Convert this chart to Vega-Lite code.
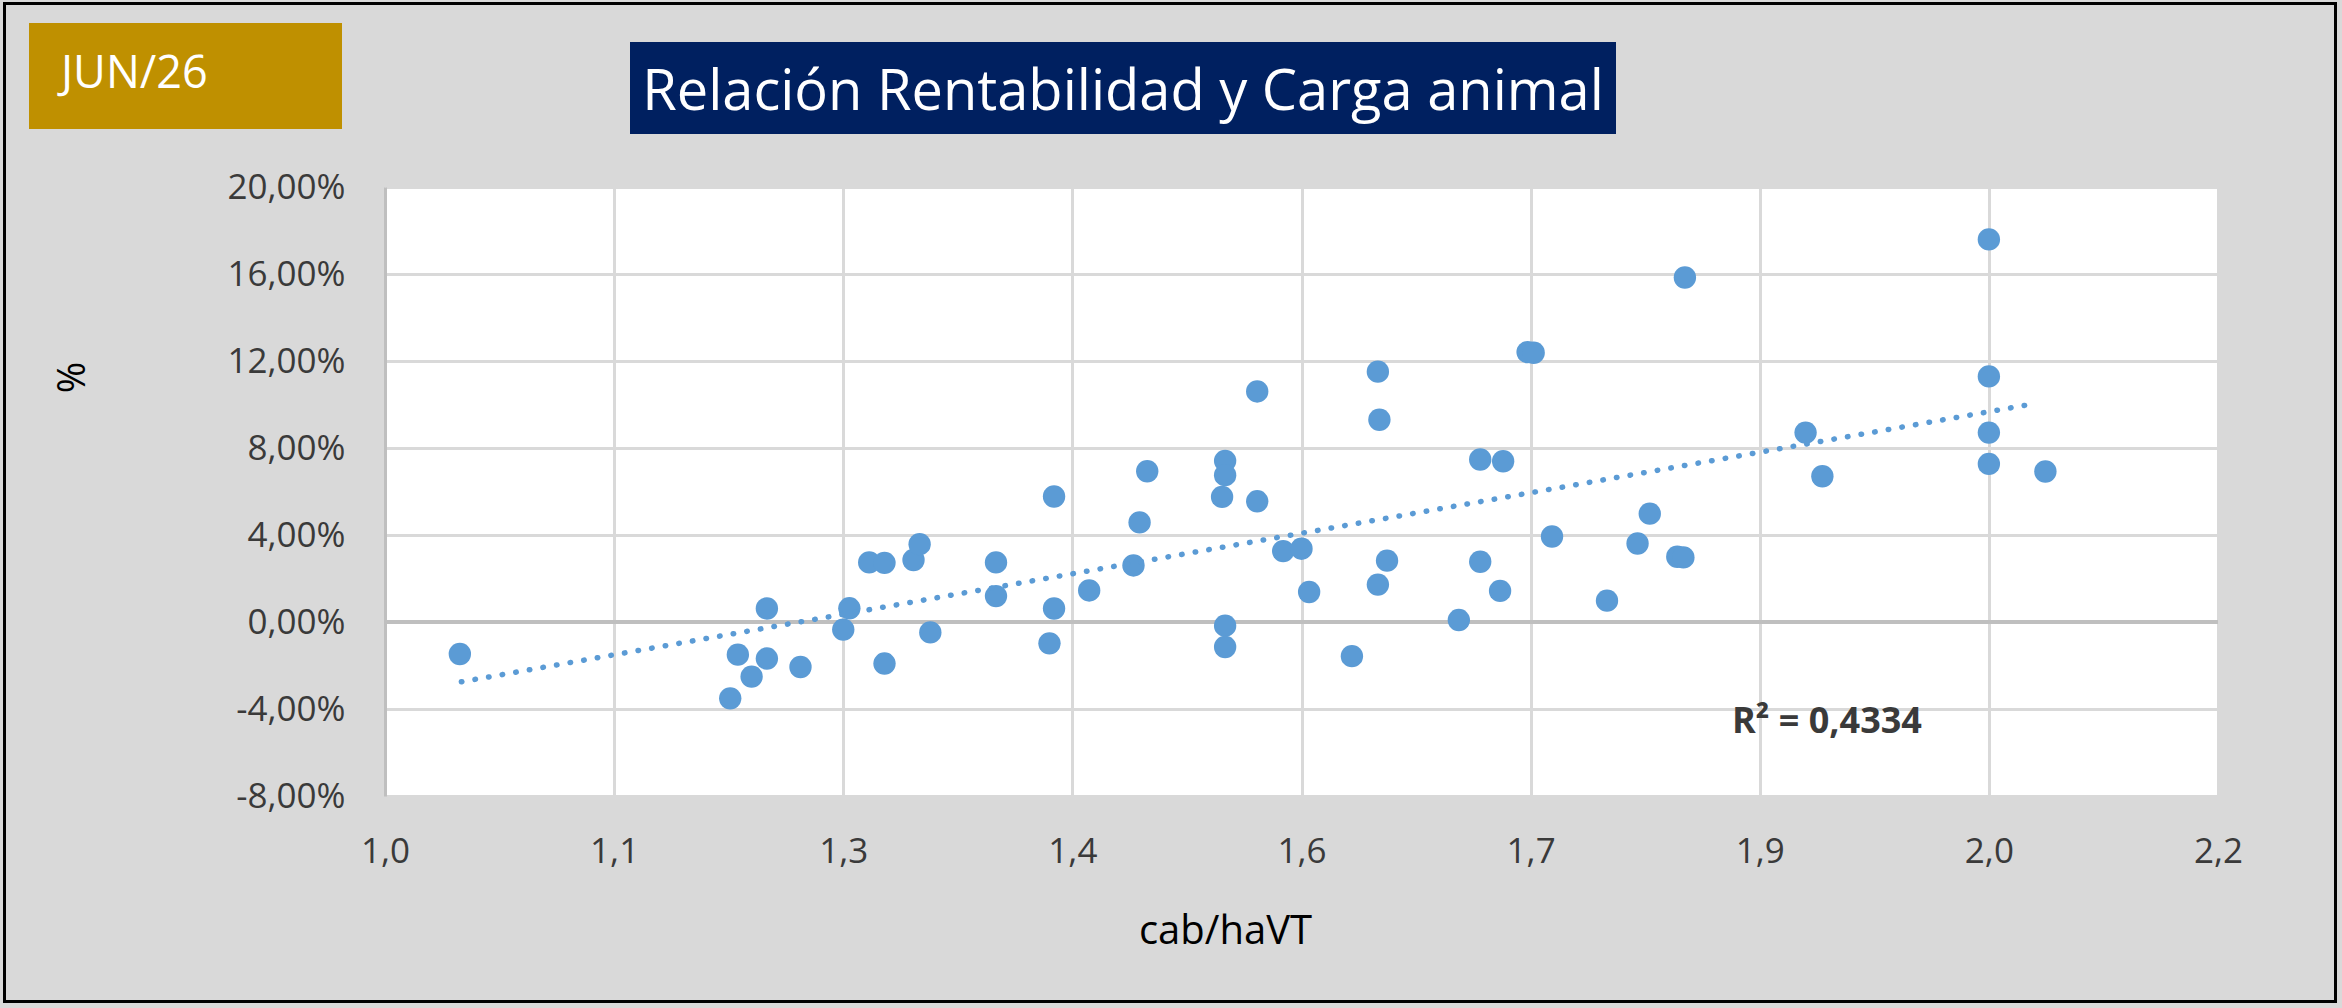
{
  "$schema": "https://vega.github.io/schema/vega-lite/v6.json",
  "background": "#d9d9d9",
  "padding": {"left": 3, "top": 2, "right": 5, "bottom": 5},
  "datasets": {
    "puntos": [
      {"carga": 1.049, "rentabilidad": -1.47},
      {"carga": 1.226, "rentabilidad": -3.51},
      {"carga": 1.231, "rentabilidad": -1.50},
      {"carga": 1.240, "rentabilidad": -2.51},
      {"carga": 1.250, "rentabilidad": -1.68},
      {"carga": 1.250, "rentabilidad": 0.62},
      {"carga": 1.272, "rentabilidad": -2.07},
      {"carga": 1.300, "rentabilidad": -0.35},
      {"carga": 1.304, "rentabilidad": 0.63},
      {"carga": 1.317, "rentabilidad": 2.74},
      {"carga": 1.327, "rentabilidad": 2.72},
      {"carga": 1.327, "rentabilidad": -1.91},
      {"carga": 1.346, "rentabilidad": 2.85},
      {"carga": 1.350, "rentabilidad": 3.58},
      {"carga": 1.357, "rentabilidad": -0.48},
      {"carga": 1.400, "rentabilidad": 2.74},
      {"carga": 1.400, "rentabilidad": 1.19},
      {"carga": 1.435, "rentabilidad": -0.98},
      {"carga": 1.438, "rentabilidad": 5.77},
      {"carga": 1.438, "rentabilidad": 0.62},
      {"carga": 1.461, "rentabilidad": 1.45},
      {"carga": 1.490, "rentabilidad": 2.60},
      {"carga": 1.494, "rentabilidad": 4.58},
      {"carga": 1.499, "rentabilidad": 6.93},
      {"carga": 1.550, "rentabilidad": 7.41},
      {"carga": 1.550, "rentabilidad": 6.75},
      {"carga": 1.548, "rentabilidad": 5.75},
      {"carga": 1.550, "rentabilidad": -0.17},
      {"carga": 1.550, "rentabilidad": -1.15},
      {"carga": 1.571, "rentabilidad": 10.60},
      {"carga": 1.571, "rentabilidad": 5.55},
      {"carga": 1.588, "rentabilidad": 3.26},
      {"carga": 1.600, "rentabilidad": 3.37},
      {"carga": 1.605, "rentabilidad": 1.38},
      {"carga": 1.633, "rentabilidad": -1.57},
      {"carga": 1.650, "rentabilidad": 11.51},
      {"carga": 1.651, "rentabilidad": 9.30},
      {"carga": 1.650, "rentabilidad": 1.72},
      {"carga": 1.656, "rentabilidad": 2.82},
      {"carga": 1.703, "rentabilidad": 0.09},
      {"carga": 1.717, "rentabilidad": 7.47},
      {"carga": 1.717, "rentabilidad": 2.77},
      {"carga": 1.730, "rentabilidad": 1.43},
      {"carga": 1.732, "rentabilidad": 7.39},
      {"carga": 1.748, "rentabilidad": 12.41},
      {"carga": 1.752, "rentabilidad": 12.38},
      {"carga": 1.764, "rentabilidad": 3.93},
      {"carga": 1.800, "rentabilidad": 0.98},
      {"carga": 1.820, "rentabilidad": 3.61},
      {"carga": 1.828, "rentabilidad": 4.98},
      {"carga": 1.846, "rentabilidad": 3.00},
      {"carga": 1.850, "rentabilidad": 2.97},
      {"carga": 1.851, "rentabilidad": 15.84},
      {"carga": 1.930, "rentabilidad": 8.71},
      {"carga": 1.941, "rentabilidad": 6.70},
      {"carga": 2.050, "rentabilidad": 17.59},
      {"carga": 2.050, "rentabilidad": 11.29},
      {"carga": 2.050, "rentabilidad": 8.71},
      {"carga": 2.050, "rentabilidad": 7.27},
      {"carga": 2.087, "rentabilidad": 6.92}
    ],
    "tendencia": [
      {"carga": 1.050, "rentabilidad": -2.75},
      {"carga": 2.080, "rentabilidad": 10.04}
    ]
  },
  "spacing": 0,
  "vconcat": [
    {
      "width": 2334,
      "height": 3,
      "view": {"fill": "#000000"},
      "data": {"values": []},
      "mark": {"type": "text"},
      "encoding": {"text": {"field": "texto"}}
    },
    {
      "spacing": 23,
      "hconcat": [
        {
          "width": 3,
          "height": 995,
          "view": {"fill": "#000000"},
          "data": {"values": []},
          "mark": {"type": "text"},
          "encoding": {"text": {"field": "texto"}}
        },
        {
          "spacing": 0,
          "vconcat": [
            {
              "width": 1,
              "height": 18,
              "view": {"fill": "#d9d9d9"},
              "data": {"values": []},
              "mark": {"type": "text"},
              "encoding": {"text": {"field": "texto"}}
            },
            {
              "spacing": 288,
              "hconcat": [
                {
                  "width": 313,
                  "height": 106,
                  "view": {"fill": "#bf9000"},
                  "data": {"values": [{"texto": "JUN/26"}]},
                  "mark": {"type": "text", "font": "Open Sans", "fontSize": 45, "color": "#ffffff", "align": "left", "baseline": "middle", "dx": -124.5, "dy": -2},
                  "encoding": {"text": {"field": "texto"}}
                },
                {
                  "spacing": 18,
                  "vconcat": [
                    {
                      "width": 1681,
                      "height": 1,
                      "view": {"fill": "#d9d9d9"},
                      "data": {"values": []},
                      "mark": {"type": "text"},
                      "encoding": {"text": {"field": "texto"}}
                    },
                    {
                      "width": 986,
                      "height": 92,
                      "view": {"fill": "#002060"},
                      "data": {"values": [{"texto": "Relación Rentabilidad y Carga animal"}]},
                      "mark": {"type": "text", "font": "Open Sans", "fontSize": 56, "color": "#ffffff", "baseline": "middle", "dy": 5},
                      "encoding": {"text": {"field": "texto"}}
                    }
                  ]
                }
              ]
            },
            {
              "width": 1,
              "height": 35.5,
              "view": {"fill": "#d9d9d9"},
              "data": {"values": []},
              "mark": {"type": "text"},
              "encoding": {"text": {"field": "texto"}}
            },
            {
              "bounds": "flush",
              "spacing": 336,
              "hconcat": [
                {
                  "width": 20,
                  "height": 700,
                  "view": {"fill": "#d9d9d9"},
                  "data": {"values": []},
                  "mark": {"type": "text"},
                  "encoding": {"text": {"field": "texto"}}
                },
                {
                  "width": 1833,
                  "height": 609,
                  "view": {"fill": "#ffffff"},
                  "layer": [
                    {
                      "data": {"values": [{}]},
                      "mark": {"type": "rule", "color": "#bfbfbf", "strokeWidth": 4},
                      "encoding": {"y": {"datum": 0}}
                    },
                    {
                      "data": {"name": "puntos"},
                      "mark": {"type": "circle", "size": 500, "opacity": 1, "color": "#5b9bd5"},
                      "encoding": {
                        "x": {
                          "field": "carga",
                          "type": "quantitative",
                          "title": "cab/haVT",
                          "scale": {"domain": [1.0, 2.2], "nice": false, "zero": false},
                          "axis": {
                            "values": [1, 1.15, 1.3, 1.45, 1.6, 1.7499999, 1.9, 2.05, 2.2],
                            "labelExpr": "replace(format(datum.value, '.1f'), '.', ',')",
                            "grid": true,
                            "gridColor": "#d9d9d9",
                            "gridWidth": 3,
                            "domain": false,
                            "ticks": false,
                            "tickSize": 0,
                            "labelPadding": 38,
                            "labelFont": "Open Sans",
                            "labelFontSize": 35,
                            "labelColor": "#3a3a3a",
                            "labelFlush": false,
                            "labelOverlap": false,
                            "titleFont": "Open Sans",
                            "titleFontSize": 40,
                            "titleFontWeight": "normal",
                            "titleColor": "#000000",
                            "titleX": 840,
                            "titleY": 147,
                            "titleAlign": "center",
                            "titleBaseline": "alphabetic"
                          }
                        },
                        "y": {
                          "field": "rentabilidad",
                          "type": "quantitative",
                          "title": "%",
                          "scale": {"domain": [-8, 20], "nice": false, "zero": false},
                          "axis": {
                            "values": [-8, -4, 0, 4, 8, 12, 16, 20],
                            "labelExpr": "(datum.value < 0 ? '-' : '') + replace(format(abs(datum.value), '.2f'), '.', ',') + '%'",
                            "grid": true,
                            "gridColor": "#d9d9d9",
                            "gridWidth": 3,
                            "domain": true,
                            "domainColor": "#bfbfbf",
                            "domainWidth": 3,
                            "ticks": false,
                            "tickSize": 0,
                            "labelPadding": 40,
                            "labelFont": "Open Sans",
                            "labelFontSize": 35,
                            "labelColor": "#3a3a3a",
                            "labelFlush": false,
                            "labelOverlap": false,
                            "titleFont": "Open Sans",
                            "titleFontSize": 38,
                            "titleFontWeight": "normal",
                            "titleColor": "#000000",
                            "titleAngle": -90,
                            "titleX": -312,
                            "titleY": 190,
                            "titleAlign": "center",
                            "titleBaseline": "middle"
                          }
                        }
                      }
                    },
                    {
                      "data": {"name": "tendencia"},
                      "mark": {"type": "line", "color": "#5b9bd5", "strokeWidth": 5.5, "strokeCap": "round", "strokeDash": [0.5, 13.3]},
                      "encoding": {
                        "x": {"field": "carga", "type": "quantitative", "title": "cab/haVT"},
                        "y": {"field": "rentabilidad", "type": "quantitative", "title": "%"}
                      }
                    },
                    {
                      "data": {"values": [{}]},
                      "mark": {"type": "text", "text": "R² = 0,4334", "font": "Open Sans", "fontSize": 36, "fontWeight": "bold", "color": "#3a3a3a", "align": "center", "baseline": "alphabetic"},
                      "encoding": {"x": {"datum": 1.944}, "y": {"datum": -5.09}}
                    }
                  ]
                }
              ]
            }
          ]
        },
        {
          "width": 3,
          "height": 995,
          "view": {"fill": "#000000"},
          "data": {"values": []},
          "mark": {"type": "text"},
          "encoding": {"text": {"field": "texto"}}
        }
      ]
    },
    {
      "width": 2334,
      "height": 3,
      "view": {"fill": "#000000"},
      "data": {"values": []},
      "mark": {"type": "text"},
      "encoding": {"text": {"field": "texto"}}
    }
  ],
  "config": {
    "view": {"stroke": null}
  }
}
